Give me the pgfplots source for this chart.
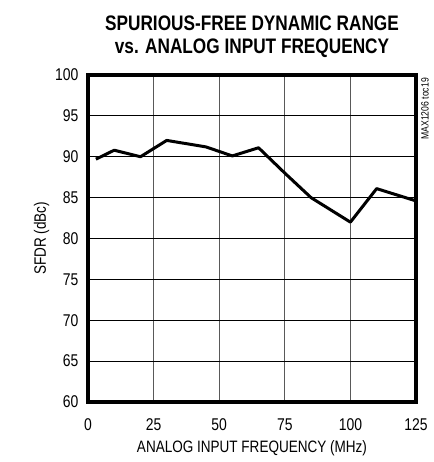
\documentclass[border=0pt]{standalone}
\usepackage{fontspec}
\setmainfont[FakeStretch=0.82]{Liberation Sans}
\usepackage{pgfplots}
\pgfplotsset{compat=1.18}
\begin{document}
\begin{tikzpicture}[x=1bp,y=1bp]
\useasboundingbox (-88bp,-60bp) rectangle (346bp,402bp);
\begin{axis}[
  scale only axis,
  width=328bp, height=327bp,
  xmin=0, xmax=125, ymin=60, ymax=100,
  xtick={0,25,...,125}, ytick={60,65,...,100},
  major tick length=0pt,
  /pgf/number format/assume math mode=true,
  ticklabel style={font=\fontsize{17bp}{19bp}\selectfont},
  xticklabel style={yshift=-13bp},
  yticklabel style={xshift=-6bp},
  grid=major,
  x grid style={gray!70!black, line width=1bp},
  y grid style={black, line width=1bp},
  axis line style={line width=3.5bp},
  xlabel={ANALOG INPUT FREQUENCY (MHz)},
  ylabel={SFDR (dBc)},
  label style={font=\fontsize{16.5bp}{19bp}\selectfont},
  xlabel style={yshift=-3bp},
  ylabel style={yshift=-1bp},
  title={\textbf{SPURIOUS-FREE DYNAMIC RANGE}\\\textbf{vs. ANALOG INPUT FREQUENCY}},
  title style={font=\fontsize{21bp}{23bp}\selectfont, align=center, yshift=8bp},
  clip=false,
]
\addplot[black, line width=3bp, line join=round] coordinates {
(3,89.7) (10,90.8) (20,90.0) (30,92.0) (45,91.2) (55,90.1) (65,91.1) (75,88.0) (85,85.0) (100,82.0) (110,86.1) (125,84.6)
};
\end{axis}
\node[rotate=90, anchor=east, font=\fontsize{10.5bp}{12bp}\selectfont, inner sep=0pt] at (337bp,324bp) {MAX1206 toc19};
\end{tikzpicture}
\end{document}
